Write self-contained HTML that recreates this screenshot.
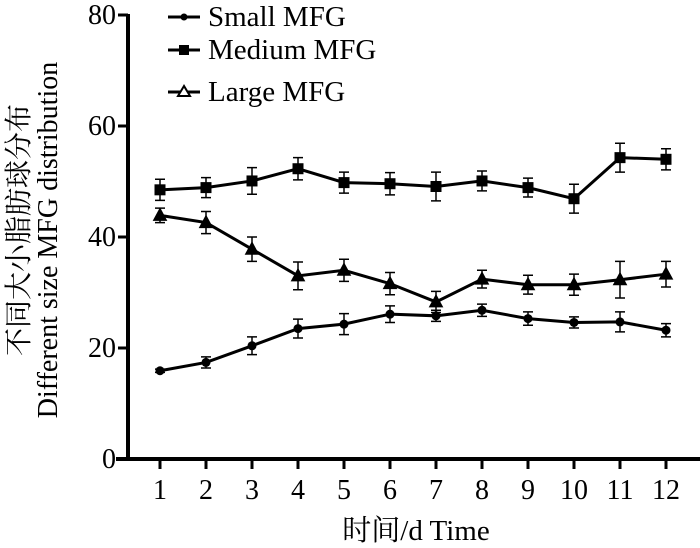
<!DOCTYPE html>
<html><head><meta charset="utf-8"><style>
html,body{margin:0;padding:0;background:#fff;}
svg{display:block;font-family:"Liberation Serif","Noto Serif CJK SC",serif;}
</style></head><body>
<svg id="chart" width="700" height="548" viewBox="0 0 700 548" xmlns="http://www.w3.org/2000/svg">
<g id="axes"></g>
<g id="series"></g>
<g id="legend"></g>
<text x="416" y="540" text-anchor="middle" font-size="29">时间/d  Time</text>
<text transform="translate(28,230) rotate(-90)" text-anchor="middle" font-size="28">不同大小脂肪球分布</text>
<text transform="translate(57,240) rotate(-90)" text-anchor="middle" font-size="28">Different size MFG distribution</text>
</svg>
<script>
const categories = [1,2,3,4,5,6,7,8,9,10,11,12];
const yTicks = [0,20,40,60,80];
const smallVals = [15.9,17.4,20.4,23.5,24.3,26.1,25.8,26.8,25.3,24.6,24.7,23.2];
const smallErr = [0.3,1.0,1.6,1.7,1.9,1.5,1.0,1.1,1.2,1.0,1.8,1.2];
const mediumVals = [48.5,48.9,50.1,52.3,49.8,49.6,49.1,50.1,48.9,46.9,54.3,54.0];
const mediumErr = [1.9,1.8,2.4,2.0,1.9,2.0,2.6,1.8,1.7,2.6,2.6,1.9];
const largeVals = [43.9,42.6,37.8,33.0,34.0,31.6,28.3,32.4,31.4,31.4,32.3,33.3];
const largeErr = [1.3,2.0,2.2,2.5,2.0,2.0,1.9,1.6,1.7,1.9,3.3,2.3];
const seriesNames = ["Small MFG","Medium MFG","Large MFG"];

const NS="http://www.w3.org/2000/svg";
const x0=160,x1=666,yTop=15,yBot=459,yMax=80;
function xs(c){return x0+(c-1)*(x1-x0)/(categories.length-1);}
function ys(v){return yBot-v*(yBot-yTop)/yMax;}
function mk(tag,attrs,parent){const e=document.createElementNS(NS,tag);for(const k in attrs)e.setAttribute(k,attrs[k]);parent.appendChild(e);return e;}

const axes=document.getElementById('axes');
let a=mk('line',{x1:128,y1:yTop-1,x2:128,y2:yBot+1,stroke:'#000','stroke-width':4},axes);


a=mk('line',{x1:116,y1:yBot,x2:700,y2:yBot,stroke:'#000','stroke-width':4},axes);


yTicks.forEach(t=>{
  const l=mk('line',{x1:118,y1:ys(t),x2:128,y2:ys(t),stroke:'#000','stroke-width':3},axes);
  
  
  const tx=mk('text',{x:116,y:ys(t)+9,'text-anchor':'end','font-size':28},axes);
  tx.textContent=t;
  
  
});
categories.forEach(c=>{
  const l=mk('line',{x1:xs(c),y1:yBot,x2:xs(c),y2:yBot+10,stroke:'#000','stroke-width':3},axes);
  
  
  const tx=mk('text',{x:xs(c),y:499,'text-anchor':'middle','font-size':28},axes);
  tx.textContent=c;
  
  
});

function marker(type,x,y,p){
  let m;
  if(type==='circle') m=mk('circle',{cx:x,cy:y,r:4.5,fill:'#000'},p);
  else if(type==='square') m=mk('rect',{x:x-5.5,y:y-5.5,width:11,height:11,fill:'#000'},p);
  else m=mk('polygon',{points:`${x},${y-7} ${x-6.5},${y+5} ${x+6.5},${y+5}`,fill:'#000',stroke:'#000','stroke-width':1},p);
  return m;
}
const ser=document.getElementById('series');
[[smallVals,smallErr,'circle','small'],[mediumVals,mediumErr,'square','medium'],[largeVals,largeErr,'triangle','large']].forEach(([vals,errs,type,nm])=>{
  const g=mk('g',{},ser);
  
  
  const pts=vals.map((v,i)=>xs(categories[i])+','+ys(v)).join(' ');
  const pl=mk('polyline',{points:pts,fill:'none',stroke:'#000','stroke-width':3},g);
  
  
  vals.forEach((v,i)=>{
    const x=xs(categories[i]),yh=ys(v+errs[i]),yl=ys(v-errs[i]);
    const e=mk('path',{d:`M${x},${yh}V${yl}M${x-5},${yh}H${x+5}M${x-5},${yl}H${x+5}`,stroke:'#000','stroke-width':1.5,fill:'none'},g);
    
    
    const m=marker(type,x,ys(v),g);
    
    
  });
});

const leg=document.getElementById('legend');
const legY=[17,50,92],types=['circle','square','triangle'];
seriesNames.forEach((n,i)=>{
  const g=mk('g',{},leg);
  
  
  mk('line',{x1:168,y1:legY[i],x2:200,y2:legY[i],stroke:'#000','stroke-width':3},g);
  if(types[i]==='circle') mk('circle',{cx:184,cy:legY[i],r:3.5,fill:'#000'},g);
  else if(types[i]==='square') mk('rect',{x:179,y:legY[i]-5,width:10,height:10,fill:'#000'},g);
  else mk('polygon',{points:`184,${legY[i]-6} 178,${legY[i]+4} 190,${legY[i]+4}`,fill:'#fff',stroke:'#000','stroke-width':2},g);
  const t=mk('text',{x:208,y:legY[i]+9,'font-size':29},g);
  t.textContent=n;
});
</script>
</body></html>
